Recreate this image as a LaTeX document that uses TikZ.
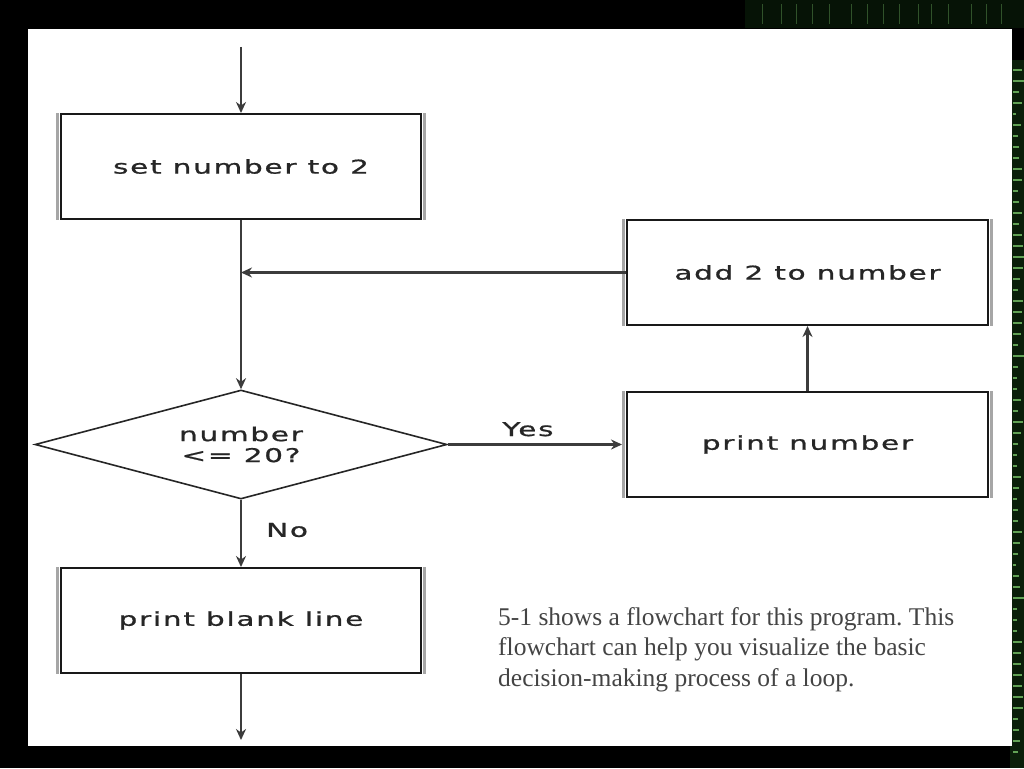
\documentclass[tikz,border=0pt]{standalone}
\usepackage{fontspec}
\usepackage{graphicx}
\setmainfont{Liberation Serif}
\frenchspacing
\newfontfamily\fcfont[LetterSpace=6,FakeBold=0.8]{DejaVu Sans}
\newcommand{\fctext}[1]{\scalebox{1.55}[1]{\fcfont #1}}
\usetikzlibrary{shapes.geometric,arrows.meta}
\definecolor{lineg}{HTML}{3C3C3C}
\definecolor{paratext}{HTML}{444444}
\definecolor{codebg}{HTML}{0A1F0A}
\definecolor{codefg}{HTML}{7FCF6F}
\begin{document}
\begin{tikzpicture}[x=1pt,y=-1pt,
  box/.style={draw=black!90, line width=2pt, fill=white, minimum width=360pt,
    minimum height=105pt, inner sep=0pt, font=\fontsize{19}{22}\selectfont, text=black!85},
  dec/.style={draw=black!85, line width=1.6pt, fill=white, shape=diamond, aspect=3.78,
    minimum width=412pt, minimum height=109pt, inner sep=0pt, align=center,
    font=\fontsize{19}{21}\selectfont, text=black!85},
  flow/.style={draw=lineg, line width=2.4pt, -{Stealth[length=11pt,width=10pt]}},
  band/.style={draw=black!35, line width=3pt},
  lbl/.style={font=\fontsize{19}{22}\selectfont, text=black!85, inner sep=0pt},
  para/.style={font=\fontsize{25.5}{30.5}\selectfont, text=paratext, align=left, inner sep=0pt}]
\useasboundingbox (0,0) rectangle (1024,768);
% background
\fill[black] (0,0) rectangle (1024,768);
\fill[codebg] (1010,60) rectangle (1024,768);
\fill[codebg!60!black] (745,0) rectangle (1024,28);
\pgfmathsetseed{11}
\foreach \i in {0,...,62}{
  \pgfmathsetmacro{\yy}{70+\i*11}
  \pgfmathsetmacro{\ll}{3+rnd*9}
  \draw[codefg, line width=1.1pt, opacity=0.75] (1013,\yy) -- ++(\ll,0);
}
\foreach \i in {0,...,14}{
  \pgfmathsetmacro{\xx}{760+\i*17+rnd*8}
  \draw[codefg!60!black, line width=0.8pt, opacity=0.6] (\xx,4) -- ++(0,20);
}
% white panel
\fill[white] (28,29) rectangle (1012,746);
% nodes
\node[box] (set) at (241,166.5) {\fctext{set number to 2}};
\node[box, minimum width=361pt] (add) at (807.5,272.5) {\fctext{add 2 to number}};
\node[box, minimum width=361pt] (print) at (807.5,444.5) {\fctext{print number}};
\node[dec] (test) at (241,444.5) {\fctext{number}\\\fctext{<= 20?}};
\node[box] (blank) at (241,620.5) {\fctext{print blank line}};
\foreach \n in {set,add,print,blank}{
  \draw[band] ([xshift=-2.5pt]\n.north west) -- ([xshift=-2.5pt]\n.south west);
  \draw[band] ([xshift=2.5pt]\n.north east) -- ([xshift=2.5pt]\n.south east);
}
\coordinate (start) at (241,47);
\coordinate (merge) at (241,272.5);
\coordinate (end) at (241,740);
% connectors
\draw[flow] (start) -- (set.north);
\draw[flow] (set.south) -- (test.north);
\draw[flow] (add.west) -- (merge);
\draw[flow, shorten >=4pt] (test.east) -- node[lbl, above=7pt, pos=.45] {\fctext{Yes}} (print.west);
\draw[flow] (print.north) -- (add.south);
\draw[flow] (test.south) -- node[lbl, right=24pt, pos=.45] {\fctext{No}} (blank.north);
\draw[flow] (blank.south) -- (end);
% paragraph
\node[para, anchor=north west] (note) at (498,607) {5-1 shows a flowchart for this program. This\\flowchart can help you visualize the basic\\decision-making process of a loop.};
\end{tikzpicture}
\end{document}
